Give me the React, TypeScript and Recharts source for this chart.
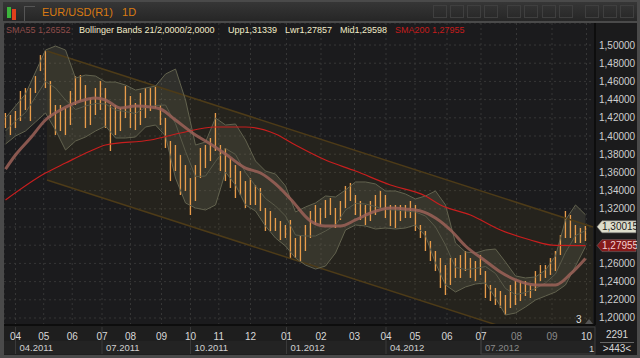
import React from 'react';
import {
  ComposedChart,
  Bar,
  Line,
  Area,
  XAxis,
  YAxis,
  CartesianGrid,
  ReferenceDot,
} from 'recharts';

// price bars, one slot per ~3.5 trading days (Apr 2011 -> Oct 2012)
const barHi = [
  1.4253, 1.4231, 1.4275, 1.4495, 1.4527, 1.4527, 1.4659, 1.489, 1.4937, 1.4604,
  1.4341, 1.4341, 1.4308, 1.4495, 1.4659, 1.467, 1.456, 1.4418, 1.4527, 1.4604,
  1.4527, 1.4341, 1.4341, 1.4308, 1.4549, 1.444, 1.4363, 1.4473, 1.4527, 1.4527,
  1.4549, 1.4341, 1.4198, 1.3945, 1.3901, 1.3791, 1.3681, 1.3538, 1.3681, 1.3868,
  1.3901, 1.3978, 1.4253, 1.3901, 1.3868, 1.3758, 1.3681, 1.3615, 1.3505, 1.3538,
  1.3462, 1.3429, 1.3209, 1.3176, 1.3099, 1.3066, 1.3022, 1.3077, 1.2879, 1.2912,
  1.3022, 1.3176, 1.3242, 1.3209, 1.3297, 1.3319, 1.3209, 1.3286, 1.3451, 1.3484,
  1.3352, 1.3286, 1.3242, 1.3286, 1.3352, 1.3396, 1.3352, 1.3242, 1.3242, 1.3242,
  1.3242, 1.3286, 1.3242, 1.3022, 1.2956, 1.2846, 1.2736, 1.2659, 1.2582, 1.2659,
  1.2659, 1.2692, 1.2736, 1.2659, 1.2626, 1.2692, 1.2516, 1.2363, 1.233, 1.2297,
  1.2253, 1.2363, 1.2407, 1.2407, 1.2407, 1.2363, 1.2516, 1.2582, 1.2582, 1.2659,
  1.2736, 1.2912, 1.3176, 1.3132, 1.3022, 1.2989, 1.3011,
];
const barLo = [
  1.4088, 1.4011, 1.4088, 1.4165, 1.4286, 1.4165, 1.4473, 1.4714, 1.4527, 1.4198,
  1.4011, 1.4055, 1.4011, 1.4121, 1.4341, 1.4385, 1.4088, 1.4121, 1.4231, 1.4286,
  1.4088, 1.3835, 1.4011, 1.4055, 1.4198, 1.4088, 1.4066, 1.4121, 1.4198, 1.4275,
  1.4308, 1.4121, 1.3868, 1.3505, 1.3615, 1.3352, 1.3396, 1.3132, 1.3286, 1.3538,
  1.3648, 1.3725, 1.3835, 1.3615, 1.3505, 1.3429, 1.3319, 1.3352, 1.3209, 1.3242,
  1.3242, 1.3176, 1.2956, 1.2956, 1.2956, 1.2857, 1.2879, 1.2659, 1.2659, 1.2626,
  1.2736, 1.2879, 1.3022, 1.3022, 1.3099, 1.3132, 1.2989, 1.3077, 1.3209, 1.3286,
  1.3132, 1.3077, 1.3022, 1.3066, 1.3132, 1.3209, 1.3099, 1.3011, 1.2989, 1.3066,
  1.3099, 1.3099, 1.2956, 1.2879, 1.2736, 1.2626, 1.2516, 1.233, 1.2253, 1.2363,
  1.244, 1.244, 1.2516, 1.244, 1.2407, 1.2473, 1.222, 1.2187, 1.2143, 1.211,
  1.2033, 1.211, 1.2143, 1.2187, 1.2242, 1.222, 1.2297, 1.2407, 1.244, 1.2473,
  1.2516, 1.2692, 1.2879, 1.2879, 1.2824, 1.2824, 1.2846,
];

// Bollinger Bands 21/2 (every second slot)
const bandT = [
  0, 2, 4, 6, 8, 10, 12, 14, 16, 18, 20, 22, 24, 26, 28, 30, 32, 34, 36, 38,
  40, 42, 44, 46, 48, 50, 52, 54, 56, 58, 60, 62, 64, 66, 68, 70, 72, 74, 76, 78,
  80, 82, 84, 86, 88, 90, 92, 94, 96, 98, 100, 102, 104, 106, 108, 110, 112, 114, 116,
];
const bandUpper = [
  1.4198, 1.433, 1.4462, 1.4703, 1.4945, 1.4989, 1.4945, 1.4637, 1.467, 1.4659,
  1.4593, 1.4593, 1.456, 1.4505, 1.4527, 1.4549, 1.4681, 1.4736, 1.4396, 1.3901,
  1.3934, 1.4198, 1.4121, 1.4132, 1.3956, 1.3725, 1.3615, 1.3582, 1.3451, 1.3165,
  1.322, 1.3264, 1.3341, 1.333, 1.3407, 1.3495, 1.3495, 1.3473, 1.3396, 1.3396,
  1.3363, 1.3308, 1.3341, 1.3396, 1.3242, 1.2824, 1.2725, 1.2714, 1.2747, 1.2758,
  1.2615, 1.2462, 1.244, 1.2451, 1.2527, 1.2681, 1.3077, 1.3242, 1.3134,
];
const bandLower = [
  1.3912, 1.4, 1.4055, 1.4154, 1.4253, 1.4066, 1.3846, 1.3945, 1.3989, 1.4055,
  1.411, 1.3978, 1.3978, 1.3989, 1.4099, 1.4121, 1.4, 1.3538, 1.3264, 1.3209,
  1.3187, 1.3242, 1.3604, 1.3462, 1.3242, 1.3176, 1.3011, 1.2879, 1.2791, 1.2659,
  1.2582, 1.2538, 1.2571, 1.2714, 1.2967, 1.3022, 1.3011, 1.2978, 1.2989, 1.2978,
  1.2989, 1.3022, 1.2901, 1.2604, 1.2363, 1.2286, 1.2341, 1.2374, 1.2385, 1.222,
  1.2033, 1.2055, 1.2121, 1.2198, 1.2242, 1.2286, 1.2363, 1.2571, 1.2786,
];
const bandMid = [
  1.4055, 1.4165, 1.4258, 1.4429, 1.4599, 1.4527, 1.4396, 1.4291, 1.433, 1.4357,
  1.4352, 1.4286, 1.4269, 1.4247, 1.4313, 1.4335, 1.4341, 1.4137, 1.383, 1.3555,
  1.356, 1.372, 1.3863, 1.3797, 1.3599, 1.3451, 1.3313, 1.3231, 1.3121, 1.2912,
  1.2901, 1.2901, 1.2956, 1.3022, 1.3187, 1.3258, 1.3253, 1.3225, 1.3192, 1.3187,
  1.3176, 1.3165, 1.3121, 1.3, 1.2802, 1.2555, 1.2533, 1.2544, 1.2566, 1.2489,
  1.2324, 1.2258, 1.228, 1.2324, 1.2385, 1.2484, 1.272, 1.2906, 1.296,
];

// SMA55
const sma55T = [
  0, 2, 5, 8, 11, 15, 18, 20, 23, 26, 29, 31, 34, 38, 41, 44, 48, 51, 54, 57,
  61, 64, 67, 70, 73, 77, 80, 83, 86, 89, 92, 96, 99, 102, 106, 110, 113, 116,
];
const sma55 = [
  1.3637, 1.3791, 1.3978, 1.4176, 1.4286, 1.4385, 1.4418, 1.4396, 1.4308, 1.433,
  1.4319, 1.4297, 1.4176, 1.4011, 1.3912, 1.3802, 1.3648, 1.3593, 1.3473, 1.3308,
  1.3066, 1.3011, 1.3011, 1.3077, 1.3154, 1.3209, 1.3198, 1.3176, 1.3099, 1.2967,
  1.2791, 1.2626, 1.2505, 1.2418, 1.2363, 1.2363, 1.2484, 1.2655,
];

// SMA200
const sma200T = [0, 8, 12, 17, 20, 29, 35, 42, 48, 54, 58, 64, 70, 77, 84, 87, 93, 99, 105, 110, 116];
const sma200 = [
  1.3297, 1.3593, 1.3703, 1.3835, 1.3901, 1.3956, 1.4033, 1.4099, 1.4099, 1.4022,
  1.3901, 1.3736, 1.3615, 1.3462, 1.3341, 1.3242, 1.3132, 1.2967, 1.2857, 1.2797, 1.2796,
];

// trend channel
const channelT = [8.3, 117.5];
const channelTop = [1.4934, 1.3];
const channelBot = [1.3516, 1.1582];

const monthTicks = [
  2.0, 7.64, 13.34, 19.3, 25.0, 31.2, 37.0, 42.66, 49.0, 56.2,
  63.1, 69.8, 76.1, 81.9, 88.3, 95.1, 102.2, 109.3, 116.2,
];
const monthLabels = ['04', '05', '06', '07', '08', '09', '10', '11', '12', '01', '02', '03', '04', '05', '06', '07', '08', '09', '10'];
const quarterTicks = [2.0, 19.3, 37.0, 56.2, 76.1, 95.1];
const quarterLabels = ['04.2011', '07.2011', '10.2011', '01.2012', '04.2012', '07.2012'];
const yTicks = [1.2, 1.22, 1.24, 1.26, 1.28, 1.3, 1.32, 1.34, 1.36, 1.38, 1.4, 1.42, 1.44, 1.46, 1.48, 1.5];

const lastClose = 1.30015;
const lastSma200 = 1.27955;

type Row = {
  t: number;
  hi?: number;
  lo?: number;
  up?: number;
  dn?: number;
  mid?: number;
  s55?: number;
  s200?: number;
  chHi?: number;
  chLo?: number;
};

const rows = new Map<number, Row>();
const rowAt = (t: number) => {
  let r = rows.get(t);
  if (!r) {
    r = { t };
    rows.set(t, r);
  }
  return r;
};
barHi.forEach((h, i) => {
  const r = rowAt(i);
  r.hi = h;
  r.lo = barLo[i];
});
bandT.forEach((t, i) => {
  const r = rowAt(t);
  r.up = bandUpper[i];
  r.dn = bandLower[i];
  r.mid = bandMid[i];
});
sma55T.forEach((t, i) => (rowAt(t).s55 = sma55[i]));
sma200T.forEach((t, i) => (rowAt(t).s200 = sma200[i]));
channelT.forEach((t, i) => {
  const r = rowAt(t);
  r.chHi = channelTop[i];
  r.chLo = channelBot[i];
});
const data = [...rows.values()].sort((a, b) => a.t - b.t);

const fmt = (v: number, d = 5) => v.toFixed(d).replace('.', ',');
const FONT = '"Liberation Sans", Arial, sans-serif';
const PLOT_RIGHT = 591;

const MonthTick = (props: any) => {
  const { x, y, payload } = props;
  const i = monthTicks.indexOf(payload.value);
  const q = quarterTicks.indexOf(payload.value);
  const dim = i >= 16 && i <= 17;
  return (
    <g>
      {q >= 0 && q === quarterTicks.length - 1 && (
        <rect x={x} y={y + 2} width={PLOT_RIGHT - x} height={27} fill="none" stroke="#3e3e3e" />
      )}
      {q >= 0 && <line x1={x} x2={x} y1={y + 2} y2={y + 29} stroke="#3a3a3a" />}
      <text x={x} y={y + 15} textAnchor="middle" fontSize={10} fontFamily={FONT} fill={dim ? '#8a8a8a' : '#d8d8d8'}>
        {monthLabels[i]}
      </text>
      {q >= 0 && (
        <text
          x={x + 4}
          y={y + 26}
          fontSize={9.5}
          fontFamily={FONT}
          fill={q === quarterTicks.length - 1 ? '#8a8a8a' : '#d0d0d0'}
        >
          {quarterLabels[q]}
        </text>
      )}
    </g>
  );
};

// tick labels hidden behind the two price tags are left out
const PriceTick = (props: any) => {
  const { x, y, payload } = props;
  const v = payload.value;
  if (Math.abs(v - lastClose) < 0.008 || Math.abs(v - lastSma200) < 0.008) return <g />;
  return (
    <text x={x} y={y} dy="0.35em" fontSize={10} fontFamily={FONT} fill="#cfcfcf">
      {fmt(v)}
    </text>
  );
};

const priceTag = (value: number, fill: string, text: string) => (p: any) => (
  <g>
    <polygon
      points={`${p.cx + 2},${p.cy} ${p.cx + 7},${p.cy - 6} ${p.cx + 41},${p.cy - 6} ${p.cx + 41},${p.cy + 6} ${p.cx + 7},${p.cy + 6}`}
      fill={fill}
      stroke="#777"
      strokeWidth={0.5}
    />
    <text x={p.cx + 7} y={p.cy} dy="0.35em" fontSize={10} fontFamily={FONT} fill={text}>
      {fmt(value)}
    </text>
  </g>
);

const abs = (l: number, t: number, w: number, h: number, extra: React.CSSProperties = {}): React.CSSProperties => ({
  position: 'absolute',
  left: l,
  top: t,
  width: w,
  height: h,
  ...extra,
});

const iconXs = [433, 450, 467, 484, 507, 524, 542, 559, 585, 603, 620];

export default function App() {
  return (
    <div
      style={{
        position: 'fixed',
        left: 0,
        top: 0,
        width: 640,
        height: 358,
        background: '#4a4a4a',
        overflow: 'hidden',
        fontFamily: FONT,
      }}
    >
      {/* title bar */}
      <div style={abs(3, 2, 634, 19, { background: 'linear-gradient(#363636, #262626)' })} />
      <div style={abs(7, 7, 4, 11, { background: '#3cb43c' })} />
      <div style={abs(12, 9, 4, 11, { background: '#e0401c' })} />
      <div style={abs(24, 6, 10, 14, { borderLeft: '1px solid #555', borderTop: '1px solid #555' })} />
      <div style={abs(42, 5, 120, 14, { color: '#d87a12', fontSize: 11, lineHeight: '14px', whiteSpace: 'pre' })}>
        {'EUR/USD(R1)   1D'}
      </div>
      {iconXs.map((x) => (
        <div key={x} style={abs(x, 5, 14, 13, { border: '1px solid #3f3f3f', boxSizing: 'border-box' })} />
      ))}

      {/* panel backgrounds */}
      <div style={abs(4, 23, 591, 302, { background: '#1b1b1d' })} />
      <div style={abs(595, 23, 42, 332, { background: '#1b1b1c' })} />
      <div style={abs(4, 325, 591, 30, { background: '#1e1e1e' })} />
      <div style={abs(4, 341, 591, 13, { background: '#232323' })} />

      <div style={abs(4, 23, 633, 332)}>
        <ComposedChart width={633} height={332} data={data} margin={{ top: 0, right: 0, bottom: 0, left: 0 }}>
          <CartesianGrid stroke="#363636" strokeDasharray="2 3" />
          <XAxis
            type="number"
            dataKey="t"
            domain={[-0.3, 117.9]}
            allowDataOverflow
            ticks={monthTicks}
            interval={0}
            height={30}
            tickSize={0}
            tickMargin={0}
            tick={<MonthTick />}
            axisLine={{ stroke: '#0d0d0d', strokeWidth: 2 }}
          />
          <YAxis
            orientation="right"
            type="number"
            domain={[1.1923, 1.5242]}
            allowDataOverflow
            ticks={yTicks}
            interval={0}
            width={42}
            tickSize={0}
            tickMargin={4}
            tick={<PriceTick />}
            axisLine={{ stroke: '#0d0d0d', strokeWidth: 2 }}
          />
          <Area
            dataKey={(d: Row) => (d.chHi != null ? [d.chLo, d.chHi] : null)}
            type="linear"
            connectNulls
            stroke="none"
            fill="#6b5a20"
            fillOpacity={0.13}
            isAnimationActive={false}
          />
          <Line dataKey="chHi" type="linear" connectNulls stroke="#4d3b18" strokeWidth={1.5} dot={false} isAnimationActive={false} />
          <Line dataKey="chLo" type="linear" connectNulls stroke="#4d3b18" strokeWidth={1.5} dot={false} isAnimationActive={false} />
          <Area
            dataKey={(d: Row) => (d.up != null ? [d.dn, d.up] : null)}
            type="linear"
            connectNulls
            stroke="none"
            fill="#7c7c62"
            fillOpacity={0.22}
            isAnimationActive={false}
          />
          <Line dataKey="up" type="linear" connectNulls stroke="#62624e" strokeWidth={1} dot={false} isAnimationActive={false} />
          <Line dataKey="dn" type="linear" connectNulls stroke="#62624e" strokeWidth={1} dot={false} isAnimationActive={false} />
          <Line dataKey="mid" type="linear" connectNulls stroke="#595948" strokeWidth={1} dot={false} isAnimationActive={false} />
          <Line dataKey="s200" type="monotone" connectNulls stroke="#c81e1e" strokeWidth={1.2} dot={false} isAnimationActive={false} />
          <Bar
            dataKey={(d: Row) => (d.hi != null ? [d.lo, d.hi] : null)}
            barSize={3}
            fill="#e89c4a"
            isAnimationActive={false}
          />
          <Line
            dataKey="s55"
            type="monotone"
            connectNulls
            stroke="#9c6258"
            strokeOpacity={0.85}
            strokeWidth={3}
            dot={false}
            isAnimationActive={false}
          />
          <ReferenceDot x={117.9} y={lastClose} r={0} ifOverflow="visible" shape={priceTag(lastClose, '#dcdccb', '#1a1a1a')} />
          <ReferenceDot x={117.9} y={lastSma200} r={0} ifOverflow="visible" shape={priceTag(lastSma200, '#861a1a', '#f4d0d0')} />
        </ComposedChart>
      </div>

      {/* legend */}
      <div style={abs(5, 24, 590, 12, { fontSize: 9, lineHeight: '12px', whiteSpace: 'pre' })}>
        <span style={{ position: 'absolute', left: 1, color: '#8e4c4a' }}>SMA55 1,26552</span>
        <span style={{ position: 'absolute', left: 74, color: '#f2ecc8' }}>Bollinger Bands 21/2,0000/2,0000</span>
        <span style={{ position: 'absolute', left: 223, color: '#f2ecc8' }}>Upp1,31339</span>
        <span style={{ position: 'absolute', left: 280, color: '#f2ecc8' }}>Lwr1,27857</span>
        <span style={{ position: 'absolute', left: 335, color: '#f2ecc8' }}>Mid1,29598</span>
        <span style={{ position: 'absolute', left: 390, color: '#c41c1c' }}>SMA200 1,27955</span>
      </div>

      {/* corner marks */}
      <div style={abs(576, 314, 8, 11, { color: '#dddddd', fontSize: 10, lineHeight: '11px' })}>3</div>
      <div
        style={abs(585, 319, 0, 0, {
          borderLeft: '4px solid transparent',
          borderRight: '4px solid transparent',
          borderBottom: '5px solid #555',
        })}
      />
      <div style={abs(589, 343, 8, 11, { color: '#cfcfcf', fontSize: 9.5, lineHeight: '11px' })}>1</div>
      <div style={abs(597, 329, 40, 12, { color: '#d8d8d8', fontSize: 10, lineHeight: '12px', textAlign: 'center' })}>2291</div>
      <div style={abs(600, 342, 34, 1, { background: '#666' })} />
      <div style={abs(597, 343, 40, 12, { color: '#d8d8d8', fontSize: 10, lineHeight: '12px', textAlign: 'center' })}>
        {'>443<'}
      </div>
    </div>
  );
}
